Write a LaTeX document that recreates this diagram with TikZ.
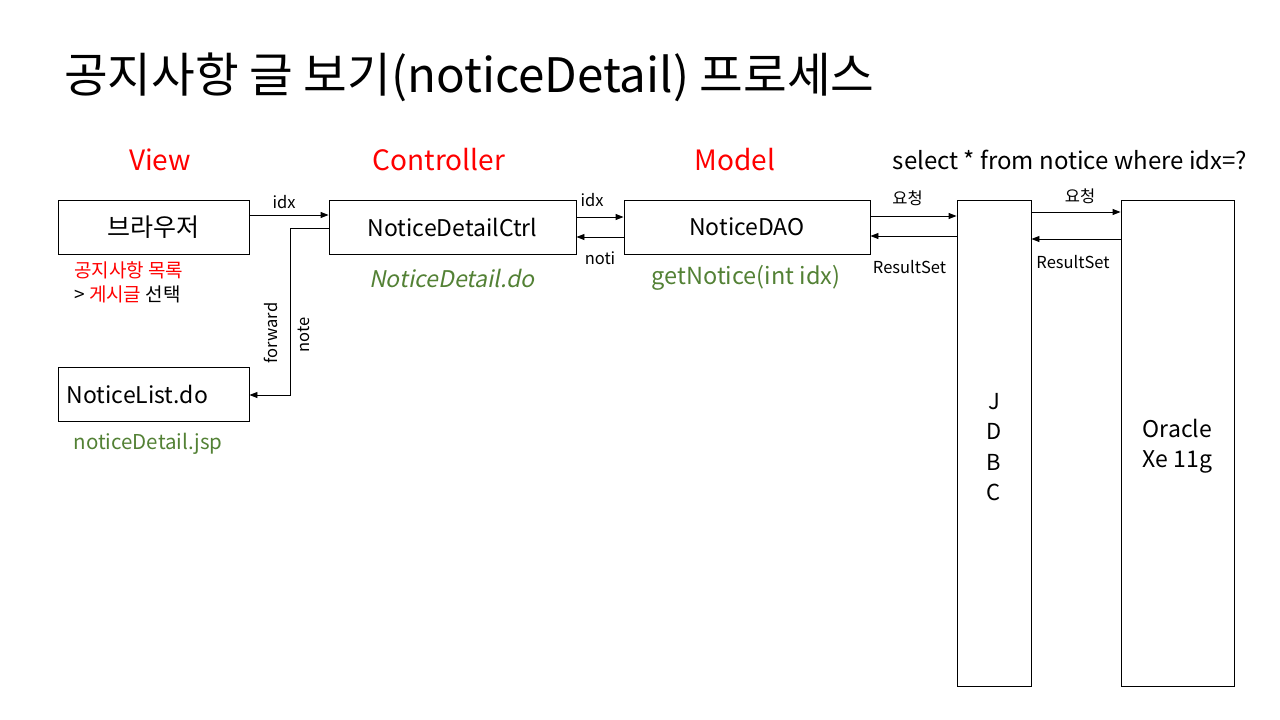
\documentclass[tikz,border=0pt]{standalone}
\usepackage{fontspec}
\setmainfont{Noto Sans CJK KR}
\newfontfamily\slantfont[FakeSlant=0.2]{Noto Sans CJK KR}
\usetikzlibrary{arrows.meta}
\definecolor{dgreen}{HTML}{538135}
\begin{document}
\begin{tikzpicture}[x=1pt,y=-1pt,
 box/.style={draw,line width=0.9pt,inner sep=0,font=\fontsize{23}{27}\selectfont},
 arr/.style={line width=0.9pt,-{Triangle[length=8pt,width=6pt]}},
 lbl/.style={font=\fontsize{16.5}{20}\selectfont,inner sep=0},
 hdr/.style={text=red,font=\fontsize{28}{32}\selectfont,inner sep=0},
 grn/.style={text=dgreen,inner sep=0}]
\useasboundingbox (0,0) rectangle (1280,720);
% title
\node[anchor=west,inner sep=0,font=\fontsize{47.5}{54}\selectfont] (title) at (64,77) {공지사항 글 보기(noticeDetail) 프로세스};
% headers
\node[hdr] (hview) at (160,160) {View};
\node[hdr] (hctrl) at (439,160) {Controller};
\node[hdr] (hmodel) at (735,160) {Model};
\node[inner sep=0,font=\fontsize{24}{28}\selectfont] (sql) at (1070,160) {select * from notice where idx=?};
% boxes
\node[box,minimum width=191pt,minimum height=54pt,font=\fontsize{25}{29}\selectfont] (browser) at (153.5,227) {브라우저};
\node[box,minimum width=247pt,minimum height=54pt] (ctrl) at (452.5,227) {NoticeDetailCtrl};
\node[box,minimum width=246pt,minimum height=54pt] (dao) at (747,227) {NoticeDAO};
\node[box,minimum width=191pt,minimum height=54pt] (list) at (153.5,394) {};
\node[anchor=west,inner sep=0,font=\fontsize{23}{27}\selectfont] (listtxt) at ([xshift=9pt]list.west) {NoticeList.do};
\node[box,minimum width=74pt,minimum height=486pt] (jdbc) at (994,443) {};
\node[inner sep=0,align=center,font=\fontsize{22}{30.5}\selectfont] (jdbctxt) at ([yshift=-4pt]jdbc.center) {J\\D\\B\\C};
\node[box,minimum width=113pt,minimum height=486pt] (ora) at (1177.5,443) {};
\node[inner sep=0,align=center,font=\fontsize{23}{30.5}\selectfont] (oratxt) at ([yshift=-3pt]ora.center) {Oracle\\Xe 11g};
% sub labels
\node[anchor=west,inner sep=0,align=left,font=\fontsize{19}{24}\selectfont] (sel) at (74,282) {\textcolor{red}{공지사항 목록}\\> \textcolor{red}{게시글} 선택};
\node[grn,font=\fontsize{23}{27}\selectfont\slantfont] (ctrldo) at (452,278) {NoticeDetail.do};
\node[grn,font=\fontsize{23.5}{27}\selectfont] (getn) at (746,278) {getNotice(int idx)};
\node[grn,font=\fontsize{20.5}{24}\selectfont] (jsp) at (148,444) {noticeDetail.jsp};
% connectors
\draw[arr] (browser.east |- 0,215) -- (ctrl.west |- 0,215) node[lbl,midway,above=6pt,xshift=-5pt] (l1) {idx};
\coordinate (bend1) at (290,228);
\coordinate (bend2) at (290,395);
\draw[arr] (ctrl.west |- bend1) -- (bend1) -- (bend2) -- (list.east |- bend2);
\node[lbl,rotate=90] (fw) at (271,333) {forward};
\node[lbl,rotate=90] (nt) at (304,335) {note};
\draw[arr] (ctrl.east |- 0,217) -- (dao.west |- 0,217) node[lbl,midway,above=10pt,xshift=-8pt] (l2) {idx};
\draw[arr] (dao.west |- 0,237) -- (ctrl.east |- 0,237) node[lbl,midway,below=14pt] (l3) {noti};
\draw[arr] (dao.east |- 0,216) -- (jdbc.west |- 0,216) node[lbl,midway,above=10pt,xshift=-6pt] (l4) {요청};
\draw[arr] (jdbc.west |- 0,236) -- (dao.east |- 0,236) node[lbl,midway,below=24pt,xshift=-4pt] (l5) {ResultSet};
\draw[arr] (jdbc.east |- 0,212) -- (ora.west |- 0,212) node[lbl,midway,above=8pt,xshift=4pt] (l6) {요청};
\draw[arr] (ora.west |- 0,239) -- (jdbc.east |- 0,239) node[lbl,midway,below=16pt,xshift=-3pt] (l7) {ResultSet};
\end{tikzpicture}
\end{document}
